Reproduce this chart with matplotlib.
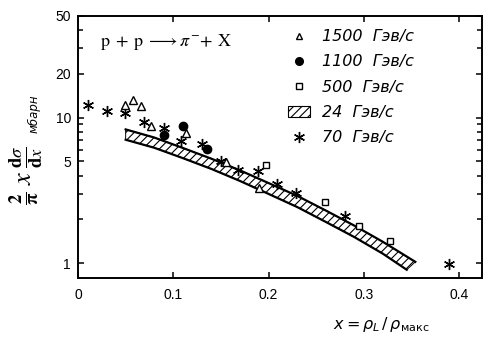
import matplotlib
matplotlib.use("Agg")
import matplotlib.pyplot as plt
from matplotlib.lines import Line2D
from matplotlib.patches import Patch
from matplotlib.ticker import FixedLocator, NullFormatter

# --- data -------------------------------------------------------------
# 1500 GeV/c (open triangles)
x_1500 = [0.0495, 0.0573, 0.066, 0.0764, 0.113, 0.155, 0.190]
y_1500 = [12.3, 13.2, 12.1, 8.7, 7.8, 4.98, 3.3]

# 1100 GeV/c (filled circles)
x_1100 = [0.0900, 0.110, 0.1357]
y_1100 = [7.6, 8.8, 6.1]

# 500 GeV/c (open squares)
x_500 = [0.197, 0.259, 0.2946, 0.3277]
y_500 = [4.7, 2.63, 1.80, 1.41]

# 70 GeV/c (asterisks)
x_70 = [0.0101, 0.0304, 0.0495, 0.0697, 0.090, 0.108, 0.1305, 0.150,
        0.168, 0.189, 0.209, 0.229, 0.2806, 0.3895]
y_70 = [12.3, 11.1, 10.8, 9.3, 8.5, 6.87, 6.6, 5.07, 4.35, 4.3, 3.5,
        3.03, 2.1, 0.98]

# 24 GeV/c band (upper and lower edges)
band_up_x = [0.050, 0.080, 0.110, 0.140, 0.170, 0.200, 0.230, 0.260,
             0.290, 0.320, 0.354]
band_up_y = [8.30, 7.30, 6.19, 5.22, 4.34, 3.55, 2.90, 2.30, 1.81,
             1.40, 1.02]
band_lo_x = [0.050, 0.080, 0.110, 0.140, 0.170, 0.200, 0.230, 0.260,
             0.290, 0.320, 0.345]
band_lo_y = [7.05, 6.21, 5.27, 4.44, 3.67, 2.99, 2.43, 1.92, 1.51,
             1.16, 0.90]

legend_labels = ["1500  Гэв/с", "1100  Гэв/с", "500  Гэв/с", "24  Гэв/с",
                 "70  Гэв/с"]

x_ticks = [0, 0.1, 0.2, 0.3, 0.4]
x_ticklabels = ["0", "0.1", "0.2", "0.3", "0.4"]
y_ticks = [1, 5, 10, 20, 50]
y_ticklabels = ["1", "5", "10", "20", "50"]
y_minor = [2, 3, 4, 6, 7, 8, 9, 30, 40]

# --- figure -----------------------------------------------------------
plt.rcParams["hatch.linewidth"] = 0.8
fig = plt.figure(figsize=(5, 3.4), dpi=100)
ax = fig.add_axes([0.156, 0.1824, 0.808, 0.7706])
ax.set_yscale("log")
ax.set_xlim(0, 0.424)
ax.set_ylim(0.79, 50)

# hatched 24 GeV/c band
poly_x = band_up_x + band_lo_x[::-1]
poly_y = band_up_y + band_lo_y[::-1]
ax.fill(poly_x, poly_y, facecolor="white", edgecolor="black",
        hatch="////", linewidth=0.7, zorder=2)
ax.plot(band_up_x, band_up_y, color="black", lw=1.6, zorder=3)
ax.plot(band_lo_x, band_lo_y, color="black", lw=1.6, zorder=3)

star = (6, 2, 0)
ax.plot(x_70, y_70, ls="none", marker=star, ms=8, mew=1.0,
        color="black", zorder=4)
ax.plot(x_1500, y_1500, ls="none", marker="^", ms=6, mew=1.0,
        mfc="white", mec="black", zorder=5)
ax.plot(x_1100, y_1100, ls="none", marker="o", ms=6,
        mfc="black", mec="black", zorder=5)
ax.plot(x_500, y_500, ls="none", marker="s", ms=5, mew=1.0,
        mfc="white", mec="black", zorder=5)

# axes styling
for sp in ax.spines.values():
    sp.set_linewidth(1.4)
ax.xaxis.set_major_locator(FixedLocator(x_ticks))
ax.set_xticklabels(x_ticklabels)
ax.yaxis.set_major_locator(FixedLocator(y_ticks))
ax.yaxis.set_minor_locator(FixedLocator(y_minor))
ax.yaxis.set_minor_formatter(NullFormatter())
ax.set_yticklabels(y_ticklabels)
ax.tick_params(which="both", direction="in", top=True, right=True,
               width=1.1, labelsize=10)
ax.tick_params(which="major", length=4.5)
ax.tick_params(which="minor", length=3.5)
ax.tick_params(axis="x", pad=7)
ax.tick_params(axis="y", pad=5)
for lab in ax.get_xticklabels() + ax.get_yticklabels():
    lab.set_family("Liberation Sans")

# reaction
ax.text(0.054, 0.90,
        r"$\mathrm{p}\;+\;\mathrm{p}\;\longrightarrow\pi^{-}\!+\,\mathrm{X}$",
        transform=ax.transAxes, fontsize=13, va="center", ha="left",
        math_fontfamily="stix")

# legend
handles = [
    Line2D([], [], ls="none", marker="^", ms=5, mew=1.0, mfc="white", mec="black"),
    Line2D([], [], ls="none", marker="o", ms=5.5, mfc="black", mec="black"),
    Line2D([], [], ls="none", marker="s", ms=4.5, mew=1.0, mfc="white", mec="black"),
    Patch(facecolor="white", edgecolor="black", hatch="////", lw=0.8),
    Line2D([], [], ls="none", marker=star, ms=8, mew=1.0, color="black"),
]
leg = ax.legend(handles, legend_labels, loc="upper left",
                bbox_to_anchor=(0.50, 0.98), frameon=False,
                handlelength=1.4, handletextpad=0.7, labelspacing=0.64,
                borderpad=0.0,
                prop={"family": "DejaVu Sans", "style": "italic", "size": 11.5})

# axis labels
fig.text(0.054, 0.485,
         r"$\mathbf{\frac{2}{\pi}}\;x\;\frac{\mathbf{d}\sigma}{\mathbf{d}x}$",
         rotation=90, fontsize=19, ha="center", va="center",
         math_fontfamily="stix")
fig.text(0.068, 0.665, "мбарн", rotation=90, fontsize=8.5, style="italic",
         ha="center", va="center", family="DejaVu Sans")
fig.text(0.762, 0.045, r"$x = \rho_{L}\,/\,\rho_{\mathrm{макс}}$",
         fontsize=11.5, ha="center", va="center",
         math_fontfamily="dejavusans")

fig.savefig("out.png", dpi=100)
